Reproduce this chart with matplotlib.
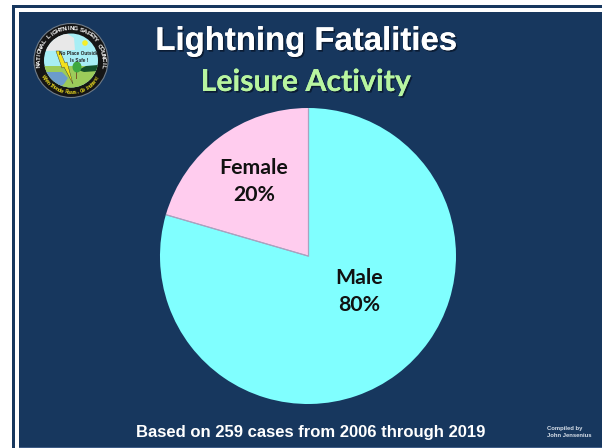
import numpy as np
import matplotlib
matplotlib.use("Agg")
import matplotlib.pyplot as plt
from matplotlib.patches import Circle, Rectangle, Polygon, Ellipse
import matplotlib.patheffects as pe

labels = ["Male", "Female"]
shares = [79.5, 20.5]
share_labels = ["80%", "20%"]
colors = ["#80FFFF", "#FFCCEE"]
title = "Lightning Fatalities"
subtitle = "Leisure Activity"
footer = "Based on 259 cases from 2006 through 2019"
credit = "Compiled by\nJohn Jensenius"

W, H = 602, 448
NAVY = "#17375E"
fig = plt.figure(figsize=(W / 100, H / 100), dpi=100, facecolor="white")

# Pixel-space backdrop
bg = fig.add_axes([0, 0, 1, 1], zorder=0)
bg.set_xlim(0, W); bg.set_ylim(H, 0); bg.axis("off")
bg.add_patch(Rectangle((12, 5), W - 12, H - 5, fc=NAVY, ec="none"))
bg.add_patch(Rectangle((15, 8), W - 15, H - 8, fc="white", ec="none"))
bg.add_patch(Rectangle((19, 12), W - 19, H - 12, fc=NAVY, ec="none"))
bg.add_patch(Rectangle((19, 447), W - 19, 1, fc="#3E5C86", ec="none"))

# Logo
cx, cy = 71, 60.5
bg.add_patch(Circle((cx, cy), 37, fc="#151515", ec="#6f7b88", lw=0.8))
bg.add_patch(Circle((cx, cy), 27, fc="#A8EEF5", ec="none"))
clip = Circle((cx, cy), 27, transform=bg.transData)
parts = [
    Polygon([(44, 66), (98, 66), (98, 90), (44, 90)], fc="#9CCB5A", ec="none"),
    Polygon([(44, 72), (62, 72), (68, 78), (64, 84), (56, 90), (44, 90)], fc="#6C9CCB", ec="none"),
    Polygon([(44, 40), (66, 33), (74, 38), (75, 50), (44, 51)], fc="#E8E8E8", ec="none"),
    Polygon([(78, 70), (86, 66), (98, 65), (98, 71), (84, 72)], fc="#14502A", ec="none"),
    Polygon([(56, 51), (60, 51), (65, 63), (67, 62), (73, 84), (64, 67), (62, 68)], fc="#F2E11C", ec="#333333", lw=0.3),
    Circle((85, 43), 2.8, fc="#F6EE2A", ec="none"),
    Rectangle((76, 70), 1.4, 9, fc="#7A5A2A", ec="none"),
    Ellipse((77, 67), 9, 11, fc="#3FA83F", ec="none"),
]
for p in parts:
    bg.add_patch(p)
    p.set_clip_path(clip)
bg.text(79, 57, "No Place Outside\nIs Safe !", fontsize=3.4, ha="center", va="center",
        family="Liberation Sans", weight="bold", color="#222222", linespacing=1.5)


def arc_text(s, radius, a0, a1, color, size):
    angs = np.linspace(a0, a1, len(s))
    for ch, a in zip(s, angs):
        r = np.radians(a)
        x, y = cx + radius * np.cos(r), cy - radius * np.sin(r)
        rot = a - 90 if a1 < a0 else a + 90
        bg.text(x, y, ch, color=color, fontsize=size, rotation=rot, ha="center", va="center",
                family="Liberation Sans", weight="bold", rotation_mode="anchor")


arc_text("NATIONAL LIGHTNING SAFETY COUNCIL", 32, 188, -10, "white", 4.6)
arc_text("When Thunder Roars, Go Indoors!", 32, 212, 328, "#E8D820", 3.6)

# Pie
ax = fig.add_axes([160 / W, (H - 404) / H, 296 / W, 296 / H], zorder=1)
wedges, _ = ax.pie(shares, colors=colors, startangle=90, counterclock=False, radius=1,
                   wedgeprops=dict(lw=0))
for w in wedges:
    for a in (w.theta1, w.theta2):
        ax.plot([0, np.cos(np.radians(a))], [0, np.sin(np.radians(a))],
                color="#A9A3C0", lw=0.8, solid_capstyle="butt", zorder=5)
ax.set_xlim(-1, 1); ax.set_ylim(-1, 1)
ax.set_aspect("equal"); ax.axis("off")

label_pos = {"Male": (359, 291.5), "Female": (254, 181.5)}
for lab, val in zip(labels, share_labels):
    x, y = label_pos[lab]
    fig.text(x / W, 1 - y / H, f"{lab}\n{val}", fontsize=15.3, family="Lato", weight="bold",
             color="#111111", ha="center", va="center", linespacing=1.48, zorder=3)

shadow = [pe.withSimplePatchShadow(offset=(1.2, -1.2), shadow_rgbFace="#0A1A30", alpha=0.9),
          pe.Normal()]
fig.text(306 / W, 1 - 41.5 / H, title, fontsize=23.7, family="Liberation Sans", weight="bold",
         color="white", ha="center", va="center", zorder=3, path_effects=shadow)
fig.text(306 / W, 1 - 82 / H, subtitle, fontsize=21.8, family="Lato", weight="bold",
         color="#B8F5A0", ha="center", va="center", zorder=3, path_effects=shadow)
fig.text(311 / W, 1 - 432 / H, footer, fontsize=11.95, family="Liberation Sans", weight="bold",
         color="white", ha="center", va="center", zorder=3)
fig.text(547 / W, 1 - 431.5 / H, credit, fontsize=4.2, family="Liberation Sans", weight="bold",
         color="#D8E0EA", ha="left", va="center", zorder=3, linespacing=1.5)

fig.savefig("out.png", dpi=100, facecolor="white")
